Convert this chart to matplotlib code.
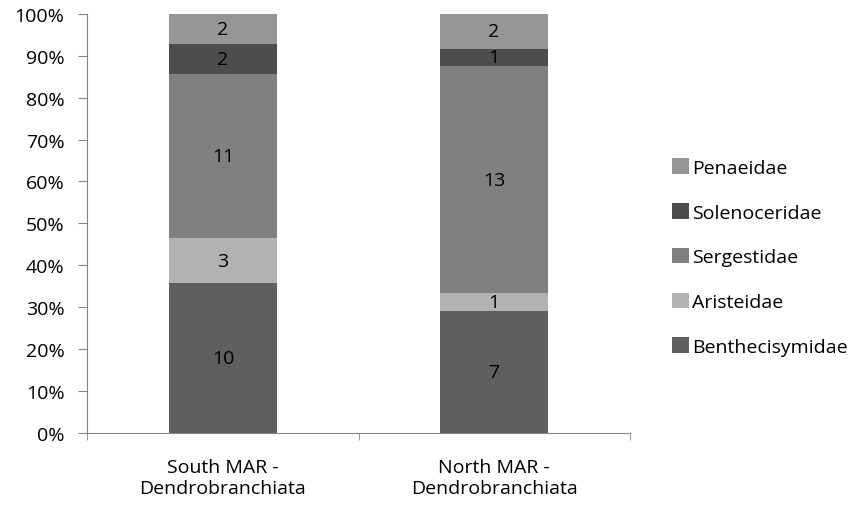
import matplotlib
matplotlib.use('Agg')
import matplotlib.pyplot as plt
import numpy as np

plt.rcParams['font.family'] = ['Open Sans', 'DejaVu Sans']

groups = ['South MAR -\nDendrobranchiata', 'North MAR -\nDendrobranchiata']
families = ['Benthecisymidae', 'Aristeidae', 'Sergestidae', 'Solenoceridae', 'Penaeidae']
counts = {
    'Benthecisymidae': [10, 7],
    'Aristeidae': [3, 1],
    'Sergestidae': [11, 13],
    'Solenoceridae': [2, 1],
    'Penaeidae': [2, 2],
}
colors = ['#5f5f5f', '#b2b2b2', '#808080', '#4d4d4d', '#969696']

fig = plt.figure(figsize=(8.66, 5.10), dpi=100)
ax = fig.add_axes([0.101, 0.149, 0.626, 0.822])

x = np.arange(len(groups))
totals = np.sum([counts[f] for f in families], axis=0)
bottom = np.zeros(len(groups))
handles = []
for fam, col in zip(families, colors):
    vals = np.array(counts[fam], dtype=float)
    frac = vals / totals
    b = ax.bar(x, frac, 0.4, bottom=bottom, color=col, label=fam)
    handles.append(b)
    for xi, f, bt, v in zip(x, frac, bottom, vals):
        ax.text(xi, bt + f / 2, str(int(v)), ha='center', va='center', fontsize=14, color='black')
    bottom += frac

ax.set_xlim(-0.5, 1.5)
ax.set_ylim(0, 1)
ax.set_yticks(np.arange(0, 1.01, 0.1))
ax.set_yticklabels([f'{int(round(v * 100))}%' for v in np.arange(0, 1.01, 0.1)], fontsize=14)
ax.set_xticks(x)
ax.set_xticklabels(groups, fontsize=14, linespacing=1.2)
ax.set_xticks([-0.5, 0.5, 1.5], minor=True)
ax.tick_params(axis='x', which='major', length=0, pad=18)
ax.tick_params(axis='x', which='minor', length=5, color='#868686')
ax.tick_params(axis='y', length=6.5, color='#868686', pad=10)
for s in ['top', 'right']:
    ax.spines[s].set_visible(False)
for s in ['left', 'bottom']:
    ax.spines[s].set_color('#868686')

fig.legend(handles[::-1], families[::-1], loc='center left', bbox_to_anchor=(0.756, 0.494),
           frameon=False, fontsize=14, labelspacing=1.35, handlelength=0.85, handleheight=0.85,
           handletextpad=0.15)

fig.savefig('out.png', dpi=100)
